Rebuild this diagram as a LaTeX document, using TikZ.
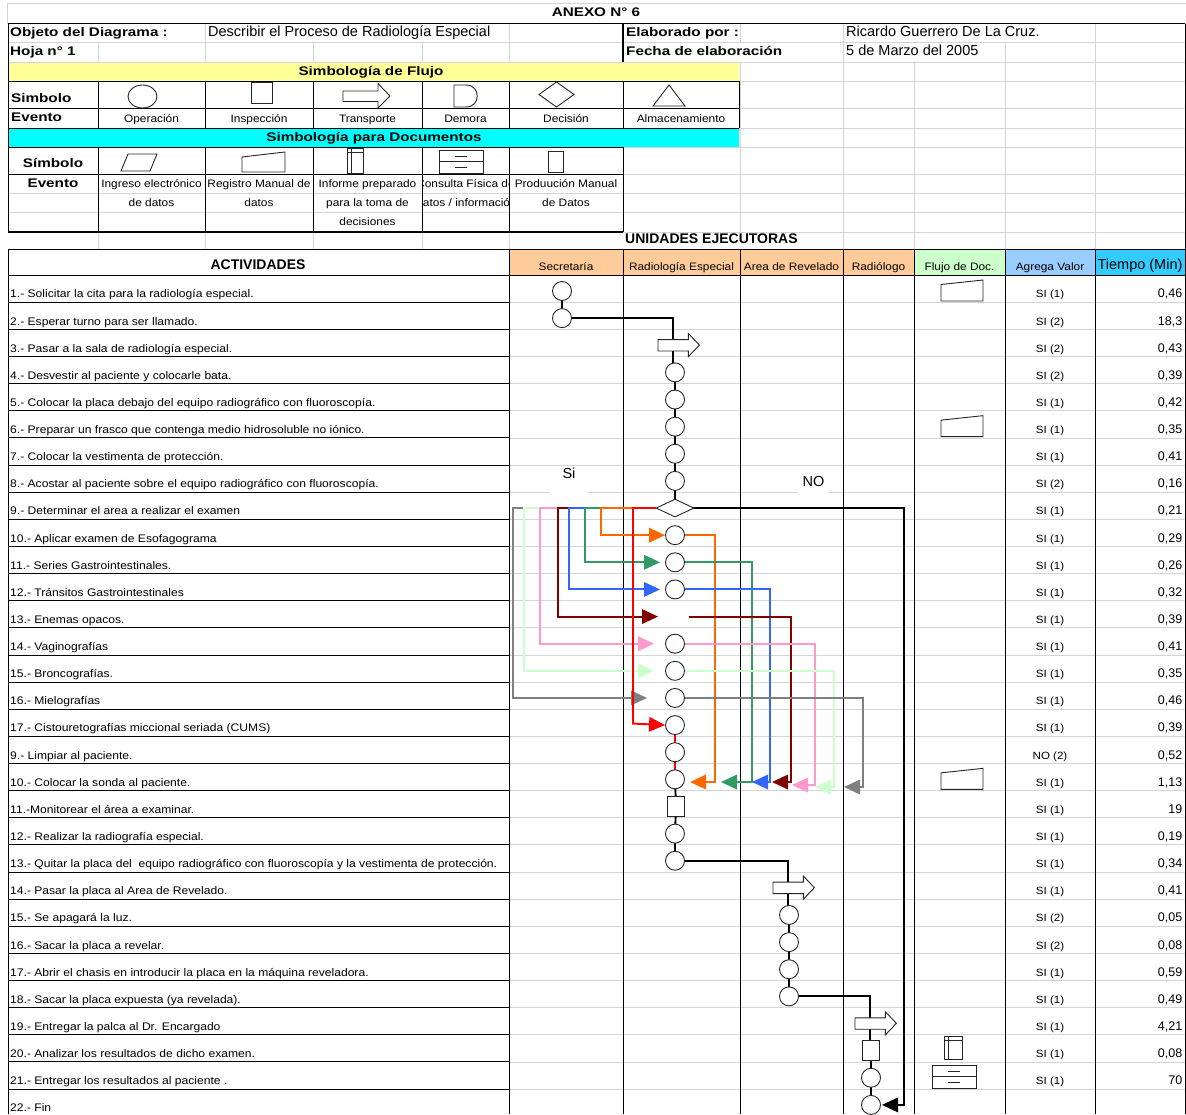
\documentclass[tikz,border=0pt]{standalone}
\usepackage{fontspec}
\setmainfont{Liberation Sans}
\newfontfamily\wf[FakeStretch=1.1]{Liberation Sans}
\newfontfamily\hbf[FakeStretch=1.22]{Liberation Sans}
\usetikzlibrary{shapes.geometric,arrows.meta}
\definecolor{cOr}{HTML}{FF6600}
\definecolor{cGr}{HTML}{339966}
\definecolor{cBl}{HTML}{3366FF}
\definecolor{cBr}{HTML}{800000}
\definecolor{cPk}{HTML}{FF99CC}
\definecolor{cLg}{HTML}{CCFFCC}
\definecolor{cGy}{HTML}{808080}
\definecolor{cRd}{HTML}{FF0000}
\definecolor{yel}{HTML}{FFFF99}
\definecolor{cya}{HTML}{00FFFF}
\definecolor{pea}{HTML}{FFCC99}
\definecolor{lgr}{HTML}{CCFFCC}
\definecolor{lbl}{HTML}{99CCFF}
\definecolor{sky}{HTML}{33CCFF}
\definecolor{gridc}{HTML}{D4D4D4}
\pgfdeclarelayer{gridl}\pgfdeclarelayer{bgl}\pgfsetlayers{gridl,bgl,main}
\newcommand\Y[1]{{291+27.13*#1}}
\newcommand\T[1]{{294.6+27.13*#1}}
\begin{document}
\begin{tikzpicture}[x=1pt,y=-1pt,
  gl/.style={draw=gridc,line width=0.9pt},
  bl/.style={draw=black,line width=1pt},
  tbl/.style={draw=black,line width=1.7pt},
  txt/.style={inner sep=0pt,text height=1.5ex,text depth=.25ex},
  act/.style={txt,anchor=west,font=\wf\fontsize{11}{13}\selectfont},
  sm/.style={txt,font=\wf\fontsize{10.8}{13}\selectfont},
  hb/.style={txt,font=\hbf\bfseries\fontsize{12.5}{15}\selectfont},
  hp/.style={txt,font=\bfseries\fontsize{14}{16}\selectfont},
  lg/.style={txt,font=\fontsize{14.5}{17}\selectfont},
  tim/.style={txt,anchor=east,font=\fontsize{12.5}{15}\selectfont},
  vlu/.style={txt,font=\wf\fontsize{10.5}{13}\selectfont},
  opn/.style={circle,draw=black!85,line width=0.9pt,fill=white,minimum size=19pt,inner sep=0pt},
  insp/.style={rectangle,draw=black!85,line width=0.9pt,fill=white,minimum width=17pt,minimum height=20pt,inner sep=0pt},
  tbody/.style={rectangle,minimum width=30pt,minimum height=11pt,inner sep=0pt},
  dec/.style={diamond,draw=black!85,line width=0.9pt,fill=white,minimum width=38pt,minimum height=18pt,inner sep=0pt},
  shp/.style={draw=black!85,line width=0.9pt,fill=white},
  fl/.style={line width=1.9pt,draw=black},
  cl/.style={line width=1.9pt},
  arrw/.style={-{Triangle[length=16pt,width=14.5pt]}}
]
\newcommand\transp[3]{%
  \node[tbody,anchor=west] (#1) at (#2,#3) {};
  \draw[shp] (#1.north west) -- (#1.north east) -- ++(0,-6) -- ++(11,11.5) -- ++(-11,11.5) -- (#1.south east) -- (#1.south west) -- cycle;}
\newcommand\regdoc[1]{%
  \draw[shp] (941,{#1+10}) -- (941,{#1-6.5}) -- (983,{#1-11}) -- (983,{#1+10}) -- cycle;}
\newcommand\actrow[4]{%
  \node[act] (a#1) at (10,\T{#1}) {#2};
  \node[vlu] (v#1) at (1050,\T{#1}) {#3};
  \node[tim] (t#1) at (1182.5,\T{#1}) {#4};}
\useasboundingbox (0,0) rectangle (1186,1114);
\begin{pgfonlayer}{gridl}
\fill[white] (0,0) rectangle (1186,1114);
\fill[yel] (8,62) rectangle (739,81);
\fill[cya] (8,128) rectangle (739,147);
\fill[pea] (509,249) rectangle (914,275.4);
\fill[lgr] (914,249) rectangle (1005,275.4);
\fill[lbl] (1005,249) rectangle (1095,275.4);
\fill[sky] (1095,249) rectangle (1185,275.4);
\draw[gl] (7,3) -- (1186,3);
\draw[gl] (7,3) -- (7,23.5);
\foreach \yy in {42.5,62,81,108.5,128,147,174,193.5,212.5,232} \draw[gl] (8,\yy) -- (1185,\yy);
\foreach \k in {0,...,29} \draw[gl] (509,{302.3+27.13*\k}) -- (1185,{302.3+27.13*\k});
\foreach \xx in {205,509,740,843,1095} \draw[gl] (\xx,23.5) -- (\xx,42.5);
\foreach \xx in {98,205,313,422,509,843,1005,1095} \draw[gl] (\xx,42.5) -- (\xx,62);
\foreach \xx in {740,843,914,1005,1095} \draw[gl] (\xx,62) -- (\xx,232);
\foreach \xx in {98,205,313,422,509,843,914,1005,1095} \draw[gl] (\xx,232) -- (\xx,249);
\fill[white] (550,467) rectangle (588,497);
\fill[white] (798,468) rectangle (829,497);
\draw[tbl] (8,23.5) -- (1185,23.5);
\draw[tbl] (623,23.5) -- (623,62);
\draw[bl] (1185,23.5) -- (1185,1114);
\draw[bl] (8,23.5) -- (8,232);
\draw[bl] (8,81) -- (739,81) (8,108.5) -- (739,108.5) (8,128) -- (739,128);
\foreach \xx in {98,205,313,422,509,623,739} \draw[bl] (\xx,81) -- (\xx,128);
\draw[bl] (8,147) -- (623,147) (8,174) -- (623,174);
\draw[tbl] (8,232) -- (623,232);
\foreach \xx in {98,205,313,422,509,623} \draw[bl] (\xx,147) -- (\xx,232);
\draw[bl] (8,249) -- (1185,249) (8,275.4) -- (1185,275.4);
\draw[bl] (8,249) -- (8,1114);
\foreach \xx in {509,623,740,843,914,1005,1095} \draw[bl] (\xx,249) -- (\xx,1114);
\foreach \k in {0,...,29} \draw[bl] (8,{302.3+27.13*\k}) -- (509,{302.3+27.13*\k});
\end{pgfonlayer}
% header texts
\node[hb] (ttl) at (596,13.5) {ANEXO N° 6};
\node[hb,anchor=west] (obj) at (10,33.5) {Objeto del Diagrama :};
\node[lg,anchor=west] (desc) at (208,33.5) {Describir el Proceso de Radiología Especial};
\node[hb,anchor=west] (hoja) at (10,52.5) {Hoja n° 1};
\node[hb,anchor=west] (elab) at (626,33.5) {Elaborado por :};
\node[lg,anchor=west] (autor) at (846,33.5) {Ricardo Guerrero De La Cruz.};
\node[hb,anchor=west] (fecha) at (626,52.5) {Fecha de elaboración};
\node[lg,anchor=west] (fval) at (846,52.5) {5 de Marzo del 2005};
\node[hb] (sflujo) at (371,72) {Simbología de Flujo};
\node[hb,anchor=west] (simb1) at (11,99) {Simbolo};
\node[hb,anchor=west] (even1) at (11,118.5) {Evento};
\node[sm] (e1) at (151.5,119) {Operación};
\node[sm] (e2) at (259,119) {Inspección};
\node[sm] (e3) at (367.5,119) {Transporte};
\node[sm] (e4) at (465.5,119) {Demora};
\node[sm] (e5) at (566,119) {Decisión};
\node[sm] (e6) at (681,119) {Almacenamiento};
\node[hb] (sdoc) at (374,138) {Simbología para Documentos};
\node[hb] (simb2) at (53,164) {Símbolo};
\node[hb] (even2) at (53,184) {Evento};
\node[sm] (d1a) at (151.5,184) {Ingreso electrónico};
\node[sm] (d1b) at (151.5,203.5) {de datos};
\node[sm] (d2a) at (259,184) {Registro Manual de};
\node[sm] (d2b) at (259,203.5) {datos};
\node[sm] (d3a) at (367.5,184) {Informe preparado};
\node[sm] (d3b) at (367.5,203.5) {para la toma de};
\node[sm] (d3c) at (367.5,222.5) {decisiones};
\begin{scope}
\clip (422.5,175) rectangle (508.5,213);
\node[sm] (d4a) at (465.5,184) {Consulta Física de};
\node[sm] (d4b) at (465.5,203.5) {Datos / información};
\end{scope}
\node[sm] (d5a) at (566,184) {Produución Manual};
\node[sm] (d5b) at (566,203.5) {de Datos};
% legend symbols
\draw[shp] (142.5,96.5) ellipse [x radius=14.5,y radius=11.5];
\draw[shp] (251,82.5) rectangle (272,103);
\draw[shp] (343,91) -- (378,91) -- (378,83.5) -- (390,96) -- (378,108) -- (378,101.5) -- (343,101.5) -- cycle;
\draw[shp] (454,85) -- (466,85) .. controls (481,85) and (481,107) .. (466,107) -- (454,107) -- cycle;
\draw[shp] (539,94.5) -- (556.5,82) -- (574,94.5) -- (556.5,107) -- cycle;
\draw[shp] (653,106) -- (669,85) -- (685,106) -- cycle;
\draw[shp] (121,171) -- (128,154) -- (157,154) -- (150,171) -- cycle;
\draw[shp] (242,172) -- (242,157) -- (285,152) -- (285,172) -- cycle;
\draw[shp] (347,148) rectangle (363,173);
\draw[shp] (347,152) -- (363,152) (351,148) -- (351,173);
\draw[shp] (439,150) rectangle (483,173);
\draw[shp] (439,161.5) -- (483,161.5) (455,156) -- (467,156) (455,167) -- (467,167);
\draw[shp] (548,151) rectangle (563,172);
% chart header
\node[hp,anchor=west] (unid) at (625,240.5) {UNIDADES EJECUTORAS};
\node[hp] (actv) at (258,266) {ACTIVIDADES};
\node[sm] (h1) at (566,267) {Secretaría};
\node[sm] (h2) at (681.5,267) {Radiología Especial};
\node[sm] (h3) at (791.5,267) {Area de Revelado};
\node[sm] (h4) at (878.5,267) {Radiólogo};
\node[sm] (h5) at (959.5,267) {Flujo de Doc.};
\node[sm] (h6) at (1050,267) {Agrega Valor};
\node[lg] (h7) at (1140,266) {Tiempo (Min)};
% rows
\actrow{0}{1.- Solicitar la cita para la radiología especial.}{SI (1)}{0,46}
\actrow{1}{2.- Esperar turno para ser llamado.}{SI (2)}{18,3}
\actrow{2}{3.- Pasar a la sala de radiología especial.}{SI (2)}{0,43}
\actrow{3}{4.- Desvestir al paciente y colocarle bata.}{SI (2)}{0,39}
\actrow{4}{5.- Colocar la placa debajo del equipo radiográfico con fluoroscopía.}{SI (1)}{0,42}
\actrow{5}{6.- Preparar un frasco que contenga medio hidrosoluble no iónico.}{SI (1)}{0,35}
\actrow{6}{7.- Colocar la vestimenta de protección.}{SI (1)}{0,41}
\actrow{7}{8.- Acostar al paciente sobre el equipo radiográfico con fluoroscopía.}{SI (2)}{0,16}
\actrow{8}{9.- Determinar el area a realizar el examen}{SI (1)}{0,21}
\actrow{9}{10.- Aplicar examen de Esofagograma}{SI (1)}{0,29}
\actrow{10}{11.- Series Gastrointestinales.}{SI (1)}{0,26}
\actrow{11}{12.- Tránsitos Gastrointestinales}{SI (1)}{0,32}
\actrow{12}{13.- Enemas opacos.}{SI (1)}{0,39}
\actrow{13}{14.- Vaginografías}{SI (1)}{0,41}
\actrow{14}{15.- Broncografías.}{SI (1)}{0,35}
\actrow{15}{16.- Mielografías}{SI (1)}{0,46}
\actrow{16}{17.- Cistouretografías miccional seriada (CUMS)}{SI (1)}{0,39}
\actrow{17}{9.- Limpiar al paciente.}{NO (2)}{0,52}
\actrow{18}{10.- Colocar la sonda al paciente.}{SI (1)}{1,13}
\actrow{19}{11.-Monitorear el área a examinar.}{SI (1)}{19}
\actrow{20}{12.- Realizar la radiografía especial.}{SI (1)}{0,19}
\actrow{21}{13.- Quitar la placa del\ \ equipo radiográfico con fluoroscopía y la vestimenta de protección.}{SI (1)}{0,34}
\actrow{22}{14.- Pasar la placa al Area de Revelado.}{SI (1)}{0,41}
\actrow{23}{15.- Se apagará la luz.}{SI (2)}{0,05}
\actrow{24}{16.- Sacar la placa a revelar.}{SI (2)}{0,08}
\actrow{25}{17.- Abrir el chasis en introducir la placa en la máquina reveladora.}{SI (1)}{0,59}
\actrow{26}{18.- Sacar la placa expuesta (ya revelada).}{SI (1)}{0,49}
\actrow{27}{19.- Entregar la palca al Dr. Encargado}{SI (1)}{4,21}
\actrow{28}{20.- Analizar los resultados de dicho examen.}{SI (1)}{0,08}
\actrow{29}{21.- Entregar los resultados al paciente .}{SI (1)}{70}
\node[act] (a30) at (10,\T{30}) {22.- Fin};
\node[lg] (lsi) at (569,475) {Si};
\node[lg] (lno) at (813.5,483) {NO};
% flow symbols
\node[opn] (s0) at (562,\Y{0}) {};
\node[opn] (s1) at (562,\Y{1}) {};
\transp{r2}{658}{\Y{2}}
\foreach \i in {3,...,7} \node[opn] (r\i) at (675,\Y{\i}) {};
\node[dec] (d8) at (675,\Y{8}) {};
\foreach \i in {9,10,11,13,14,15,16,17,18} \node[opn] (r\i) at (675,\Y{\i}) {};
\node[insp] (r19) at (676,\Y{19}) {};
\node[opn] (r20) at (675,\Y{20}) {};
\node[opn] (r21) at (675,\Y{21}) {};
\transp{ar22}{773}{\Y{22}}
\foreach \i in {23,...,26} \node[opn] (ar\i) at (789,\Y{\i}) {};
\transp{rd27}{855}{\Y{27}}
\node[insp] (rd28) at (871,\Y{28}) {};
\node[opn] (rd29) at (871,\Y{29}) {};
\node[opn] (rd30) at (871,\Y{30}) {};
% document flow column
\regdoc{291}
\regdoc{426.65}
\regdoc{779.34}
\draw[shp] (944,1036) rectangle (962,1059);
\draw[shp] (944,1040) -- (962,1040) (948,1036) -- (948,1059);
\draw[shp] (932,1065) rectangle (976,1088);
\draw[shp] (932,1076.5) -- (976,1076.5) (948,1071) -- (960,1071) (948,1082) -- (960,1082);
% end points
\coordinate (eg) at (660,\Y{10});
\coordinate (eb) at (660,\Y{11});
\coordinate (ebr) at (658,\Y{12});
\coordinate (ep) at (654,\Y{13});
\coordinate (elg) at (654,\Y{14});
\coordinate (egy) at (647,\Y{15});
\coordinate (rk) at (633,{291+27.13*16-1.5});
\coordinate (ro) at (690,782);
\coordinate (rg) at (721,782);
\coordinate (rb) at (752,782);
\coordinate (sbr) at (689,\Y{12});
\coordinate (rbr) at (772,782);
\coordinate (rp) at (792,785);
\coordinate (rlg) at (815,787);
\coordinate (rgy) at (844,787);
\coordinate (nox) at (904,\Y{8});
\coordinate (noy) at (904,\Y{30});
\coordinate (noend) at (882,\Y{30});
\begin{pgfonlayer}{bgl}
\draw[fl] (s0.center) -- (s1.center);
\draw[fl] (s1.center) -| (r2.center);
\draw[fl] (r2.center) -- (r2.center |- r3.center);
\draw[fl] (r3.center) -- (r4.center) -- (r5.center) -- (r6.center) -- (r7.center) -- (d8.center);
\draw[fl,draw=cRd] (r16.center) -- (r17.center) -- (r18.center);
\draw[fl] (r18.center) -- (r19.center) -- (r20.center) -- (r21.center);
\draw[fl] (r21.center) -| (ar22.center);
\draw[fl] (ar22.center) -- (ar22.center |- ar23.center);
\draw[fl] (ar23.center) -- (ar26.center);
\draw[fl] (ar26.center) -| (rd27.center);
\draw[fl] (rd27.center) -- (rd27.center |- rd28.center);
\draw[fl] (rd28.center) -- (rd30.center);
\draw[fl,arrw] (d8.center) -- (nox) -- (noy) -- (noend);
% branches
\draw[cl,color=cGy,arrw] (d8.west) -| (egy -| 513,0) -- (egy);
\draw[cl,color=cLg,arrw] (d8.west) -| (elg -| 524,0) -- (elg);
\draw[cl,color=cPk,arrw] (d8.west) -| (ep -| 540,0) -- (ep);
\draw[cl,color=cBr,arrw] (d8.west) -| (ebr -| 558,0) -- (ebr);
\draw[cl,color=cBl,arrw] (d8.west) -| (eb -| 569,0) -- (eb);
\draw[cl,color=cGr,arrw] (d8.west) -| (eg -| 585,0) -- (eg);
\draw[cl,color=cOr,arrw] (d8.west) -| (r9.west -| 601,0) -- (r9.west);
\draw[cl,color=cRd,arrw] (d8.west) -| (rk) -- (r16.west);
% returns
\draw[cl,color=cOr,arrw] (r9.east) -- (r9.east -| 715,0) |- (ro);
\draw[cl,color=cGr,arrw] (r10.east) -- (r10.east -| 752,0) |- (rg);
\draw[cl,color=cBl,arrw] (r11.east) -- (r11.east -| 770,0) |- (rb);
\draw[cl,color=cBr,arrw] (sbr) -- (sbr -| 791,0) |- (rbr);
\draw[cl,color=cPk,arrw] (r13.east) -- (r13.east -| 815,0) |- (rp);
\draw[cl,color=cLg,arrw] (r14.east) -- (r14.east -| 834,0) |- (rlg);
\draw[cl,color=cGy,arrw] (r15.east) -- (r15.east -| 863,0) |- (rgy);
\end{pgfonlayer}
\end{tikzpicture}
\end{document}
